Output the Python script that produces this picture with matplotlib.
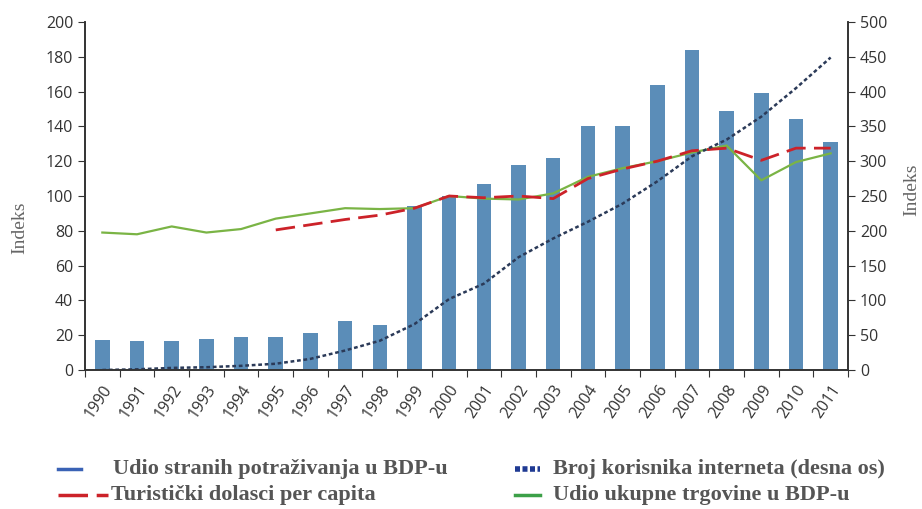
import matplotlib
matplotlib.use("Agg")
import matplotlib.pyplot as plt
from matplotlib.lines import Line2D
import numpy as np

# data
years = [str(y) for y in range(1990, 2012)]
foreign_claims = [17, 16.5, 16.5, 18, 19, 19, 21, 28, 26, 94, 100, 107, 118, 122,
                  140, 140, 164, 184, 149, 159, 144, 131]
trade_share = [79, 78, 82.5, 79, 81, 87, 90, 93, 92.5, 93, 100, 98.5, 98, 101.5,
               111, 116, 120, 125, 129, 109, 119.5, 124.5]
tourists = [None] * 5 + [80.5, 83.5, 86.5, 89, 93, 100, 99, 100, 98.5,
                         110, 115.5, 120, 126, 127.5, 120.5, 127.5, 127.5]
internet = [0, 1, 3, 4, 6, 9, 16, 28, 42, 66, 102, 124, 162, 189,
            213, 239, 271, 307, 331, 364, 405, 449]

bar_col = '#5b8db8'
green = '#7ab445'
red = '#cc2229'
navy = '#2b3a58'
txt = '#333333'

fig = plt.figure(figsize=(9.22, 5.09), dpi=100)
ax = fig.add_axes([85 / 922, 1 - 370 / 509, (848 - 85) / 922, 348 / 509])
ax2 = ax.twinx()

x = np.arange(len(years))
ax.bar(x, foreign_claims, width=0.42, color=bar_col, zorder=1)
ax.plot(x, trade_share, color=green, lw=1.6, zorder=3)
tour = np.array([np.nan if v is None else v for v in tourists], dtype=float)
ax.plot(x, tour, color=red, lw=2.0, dashes=(7, 3), zorder=4)
ax2.plot(x, internet, color=navy, lw=1.8, dashes=(1.5, 1.1))

ax.set_xlim(-0.5, len(years) - 0.5)
ax.set_ylim(0, 200)
ax2.set_ylim(0, 500)
ax.set_yticks(range(0, 201, 20))
ax2.set_yticks(range(0, 501, 50))

# ticks at category edges, labels at centres
ax.set_xticks(np.arange(-0.5, len(years)), minor=False)
ax.set_xticklabels([])
ax.set_xticks(x, minor=True)
ax.set_xticklabels(years, minor=True, rotation=56, ha='right', va='top',
                   rotation_mode='anchor', fontsize=11.5, color=txt,
                   family='Open Sans')
ax.tick_params(axis='x', which='minor', length=0, pad=9)
ax.tick_params(axis='x', which='major', length=5, direction='out', color=txt)

for a in (ax, ax2):
    a.spines['top'].set_visible(False)
    for s in ('left', 'right', 'bottom'):
        a.spines[s].set_color(txt)
        a.spines[s].set_linewidth(1.2)
ax.tick_params(axis='y', length=5, color=txt, labelsize=11.5, labelcolor=txt)
ax2.tick_params(axis='y', length=5, color=txt, labelsize=11.5, labelcolor=txt)
for lab in ax.get_yticklabels() + ax2.get_yticklabels():
    lab.set_family('Open Sans')

fig.text(20 / 922, 1 - 228 / 509, 'Indeks', rotation=90, ha='center', va='center',
         fontsize=14, color='#666666', family='Liberation Serif')
fig.text(912 / 922, 1 - 190 / 509, 'Indeks', rotation=90, ha='center', va='center',
         fontsize=14, color='#666666', family='Liberation Serif')

# legend built by hand so the handles match the original
def fx(px):
    return px / 922

def fy(py):
    return 1 - py / 509

leg_font = dict(fontsize=16, color='#555555', family='Liberation Serif',
                fontweight='bold', va='center', ha='left')
r1, r2 = 469, 495
fig.add_artist(Line2D([fx(58), fx(81)], [fy(r1), fy(r1)], color='#3a62b5', lw=2.5))
fig.add_artist(Line2D([fx(58), fx(108)], [fy(r2), fy(r2)], color=red, lw=2.5,
                      dashes=(8.5, 2.5)))
fig.add_artist(Line2D([fx(515), fx(540)], [fy(r1), fy(r1)], color='#1f3a93', lw=4,
                      dashes=(0.9, 0.45)))
fig.add_artist(Line2D([fx(515), fx(540)], [fy(r2), fy(r2)], color='#3ca048', lw=2.5))
fig.text(fx(113), fy(r1), 'Udio stranih potraživanja u BDP-u', **leg_font)
fig.text(fx(111), fy(r2), 'Turistički dolasci per capita', **leg_font)
fig.text(fx(553), fy(r1), 'Broj korisnika interneta (desna os)', **leg_font)
fig.text(fx(553), fy(r2), 'Udio ukupne trgovine u BDP-u', **leg_font)

fig.savefig('out.png', dpi=100)
